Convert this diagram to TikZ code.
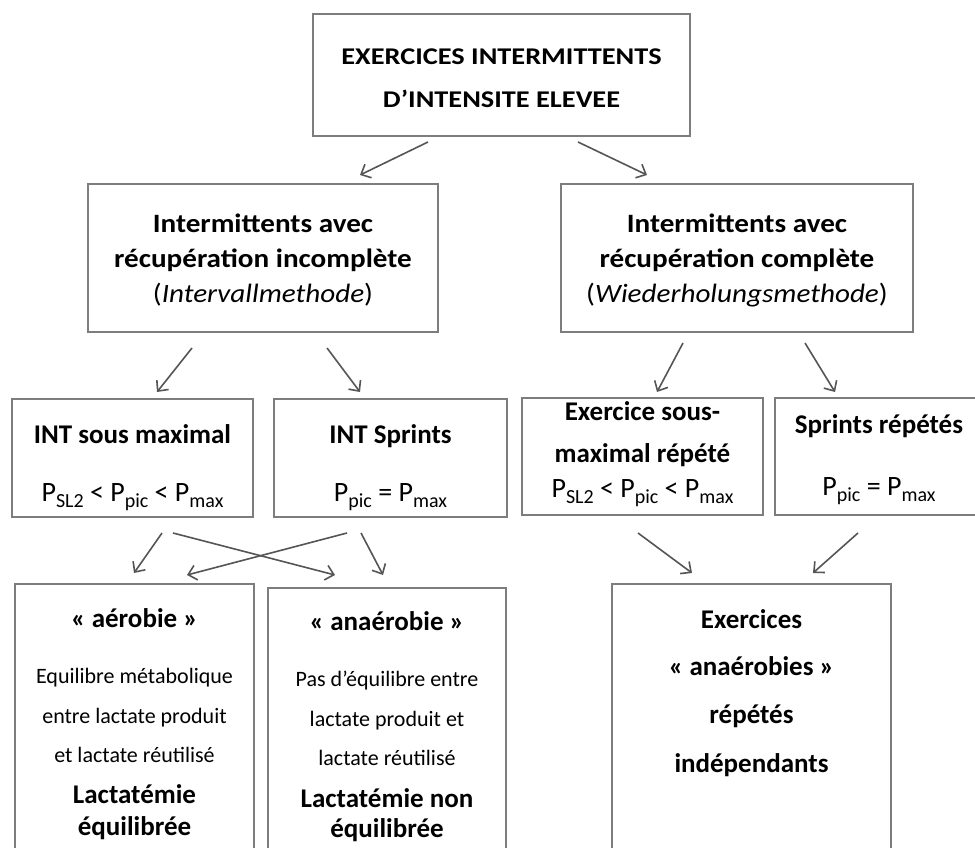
\documentclass[tikz,border=0pt]{standalone}
\usepackage{fontspec}
\setmainfont{Carlito}
\usetikzlibrary{arrows.meta,fit}
\definecolor{boxgray}{RGB}{125,125,125}
\definecolor{arrgray}{RGB}{85,85,85}
\newcommand\sbs[1]{\raisebox{-6pt}{\fontsize{20}{20}\selectfont #1}}
\tikzset{
  boxnode/.style={draw=boxgray, line width=2.2pt, inner sep=0pt, rectangle},
  conn/.style={draw=arrgray, line width=1.6pt, -{Straight Barb[length=8pt,width=15pt]}},
  tx/.style={anchor=base, inner sep=0pt},
  tt/.style={tx, font=\fontsize{24}{28}\selectfont\bfseries\addfontfeature{FakeStretch=1.18}},
  tm/.style={tx, font=\fontsize{26.5}{30}\selectfont\bfseries\addfontfeature{FakeStretch=1.1}},
  ti/.style={tx, font=\fontsize{26.5}{30}\selectfont\addfontfeature{FakeStretch=1.1}},
  tb/.style={tx, font=\fontsize{27}{30}\selectfont\bfseries},
  tf/.style={tx, font=\fontsize{28}{30}\selectfont},
  ts/.style={tx, font=\fontsize{22}{24}\selectfont},
}
\begin{document}
\begin{tikzpicture}[x=1pt,y=-1pt]
\useasboundingbox (0,0) rectangle (975,848);
\clip (0,0) rectangle (975,848);
\fill[white] (0,0) rectangle (975,848);
% boxes
\node[boxnode, fit={(313,14) (690,136)}] (top) {};
\node[boxnode, fit={(88,184) (438,332)}] (ml) {};
\node[boxnode, fit={(561,184) (913,332)}] (mr) {};
\node[boxnode, fit={(12,399) (253,517)}] (ra) {};
\node[boxnode, fit={(274,399) (507,517)}] (rb) {};
\node[boxnode, fit={(522,398) (763,515)}] (rc) {};
\node[boxnode, fit={(775,398) (1010,515)}] (rd) {};
\node[boxnode, fit={(15,584) (254,900)}] (be) {};
\node[boxnode, fit={(268,588) (506,900)}] (bf) {};
\node[boxnode, fit={(612,584) (891,900)}] (bg) {};
% texts
\node[tt] (t1) at (501.5,65) {EXERCICES INTERMITTENTS};
\node[tt] (t2) at (501.5,108) {D’INTENSITE ELEVEE};
\node[tm] (l1) at (263,233) {Intermittents avec};
\node[tm] (l2) at (263,267) {récupération incomplète};
\node[ti] (l3) at (263,302) {(\textit{Intervallmethode})};
\node[tm] (r1) at (737,233) {Intermittents avec};
\node[tm] (r2) at (737,267) {récupération complète};
\node[ti] (r3) at (737,302) {(\textit{Wiederholungsmethode})};
\node[tb] (a1) at (132.5,443) {INT sous maximal};
\node[tf] (a2) at (132.5,501) {P\sbs{SL2} < P\sbs{pic} < P\sbs{max}};
\node[tb] (b1) at (390.5,443) {INT Sprints};
\node[tf] (b2) at (390.5,501) {P\sbs{pic} = P\sbs{max}};
\node[tb] (c1) at (642.5,420) {Exercice sous-};
\node[tb] (c2) at (642.5,462) {maximal répété};
\node[tf] (c3) at (642.5,497) {P\sbs{SL2} < P\sbs{pic} < P\sbs{max}};
\node[tb] (d1) at (879,433) {Sprints répétés};
\node[tf] (d2) at (879,495) {P\sbs{pic} = P\sbs{max}};
\node[tb] (e1) at (134.5,627) {«~aérobie~»};
\node[ts] (e2) at (134.5,683) {Equilibre métabolique};
\node[ts] (e3) at (134.5,723) {entre lactate produit};
\node[ts] (e4) at (134.5,762) {et lactate réutilisé};
\node[tb] (e5) at (134.5,803) {Lactatémie};
\node[tb] (e6) at (134.5,835) {équilibrée};
\node[tb] (f1) at (387,630) {«~anaérobie~»};
\node[ts] (f2) at (387,686) {Pas d’équilibre entre};
\node[ts] (f3) at (387,726) {lactate produit et};
\node[ts] (f4) at (387,765) {lactate réutilisé};
\node[tb] (f5) at (387,807) {Lactatémie non};
\node[tb] (f6) at (387,837) {équilibrée};
\node[tb] (g1) at (751.5,628) {Exercices};
\node[tb] (g2) at (751.5,675) {«~anaérobies~»};
\node[tb] (g3) at (751.5,723) {répétés};
\node[tb] (g4) at (751.5,772) {indépendants};
% connector end points
\coordinate (p1s) at (428,142); \coordinate (p1e) at (360,175);
\coordinate (p2s) at (578,142); \coordinate (p2e) at (647,175);
\coordinate (p3s) at (192,348); \coordinate (p3e) at (157,392);
\coordinate (p4s) at (327,348); \coordinate (p4e) at (360,392);
\coordinate (p5s) at (683,343); \coordinate (p5e) at (657,392);
\coordinate (p6s) at (805,343); \coordinate (p6e) at (835,392);
\coordinate (p7s) at (162,533); \coordinate (p7e) at (134,573);
\coordinate (p8s) at (173,533); \coordinate (p8e) at (335,575);
\coordinate (p9s) at (347,533); \coordinate (p9e) at (187,575);
\coordinate (p10s) at (361,533); \coordinate (p10e) at (383,575);
\coordinate (p11s) at (638,533); \coordinate (p11e) at (692,573);
\coordinate (p12s) at (858,533); \coordinate (p12e) at (813,573);
\foreach \i in {1,...,12} { \draw[conn] (p\i s) -- (p\i e); }
\end{tikzpicture}
\end{document}
